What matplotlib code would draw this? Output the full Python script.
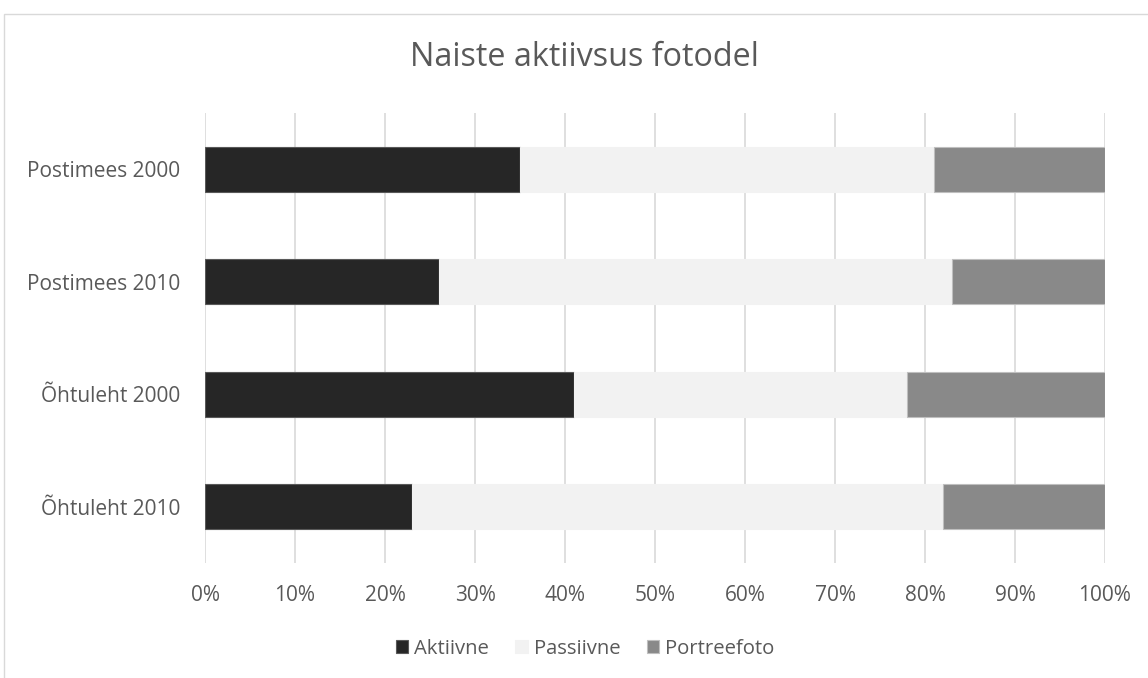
import numpy as np
import matplotlib.pyplot as plt
from matplotlib.patches import Rectangle

plt.rcParams['font.family'] = ['Open Sans', 'DejaVu Sans']

categories = ['Postimees 2000', 'Postimees 2010', 'Õhtuleht 2000', 'Õhtuleht 2010']
aktiivne = [35, 26, 41, 23]
passiivne = [46, 57, 37, 59]
portreefoto = [19, 17, 22, 18]
x_ticks = [0, 10, 20, 30, 40, 50, 60, 70, 80, 90, 100]

text_color = '#595959'

fig = plt.figure(figsize=(11.48, 6.78), dpi=100)
ax = fig.add_axes([205 / 1148, 1 - 563 / 678, 900 / 1148, 450 / 678])

# outer chart border (cut off at right and bottom as in the original)
fig.patches.append(Rectangle((4 / 1148, -0.1), 1.2, 1 - 14 / 678 + 0.1,
                             transform=fig.transFigure, fill=False,
                             edgecolor='#d9d9d9', linewidth=1.0))

y = np.arange(len(categories))
h = 0.4
left = np.zeros(len(categories))
series = [('Aktiivne', aktiivne, '#262626', '#595959'),
          ('Passiivne', passiivne, '#f2f2f2', '#f2f2f2'),
          ('Portreefoto', portreefoto, '#898989', '#bfbfbf')]
for name, vals, color, edge in series:
    vals = np.array(vals, dtype=float)
    ax.barh(y, vals, left=left, height=h, color=color, edgecolor=edge,
            linewidth=0.8, label=name, zorder=3)
    left += vals

ax.set_ylim(len(categories) - 0.5, -0.5)
ax.set_xlim(0, 100)
ax.set_yticks(y)
ax.set_yticklabels(categories)
ax.set_xticks(x_ticks)
ax.set_xticklabels([f'{t}%' for t in x_ticks])
ax.tick_params(axis='both', length=0, colors=text_color, labelsize=15)
ax.tick_params(axis='y', pad=18)
ax.tick_params(axis='x', pad=16)
ax.grid(axis='x', color='#d9d9d9', linewidth=1.2, zorder=0)
ax.set_axisbelow(True)
for s in ax.spines.values():
    s.set_visible(False)

fig.text(584 / 1148, 1 - 57 / 678, 'Naiste aktiivsus fotodel', ha='center', va='center',
         fontsize=23.3, color=text_color)

leg = fig.legend(loc='center', bbox_to_anchor=(585 / 1148, 1 - 649 / 678),
                 ncol=3, frameon=False, fontsize=14.6, handlelength=0.62,
                 handleheight=0.62, handletextpad=0.28, columnspacing=1.3,
                 borderpad=0, borderaxespad=0)
for t in leg.get_texts():
    t.set_color(text_color)

fig.savefig('out.png', dpi=100)
